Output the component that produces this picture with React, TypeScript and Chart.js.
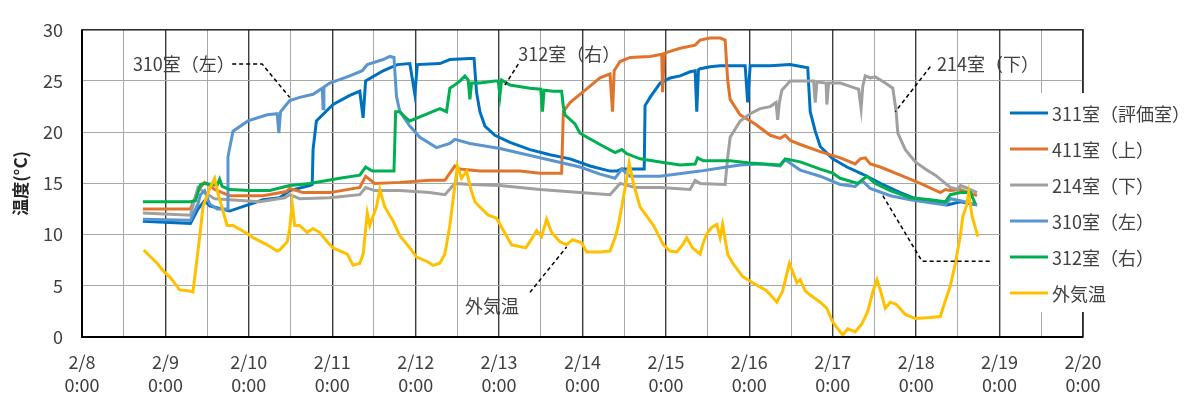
import { useEffect, useRef } from 'react';
import { Chart, registerables } from 'chart.js';

Chart.register(...registerables);

// Axis tick labels (x axis is measured in days from 2/8 0:00)
const dayLabels = ['2/8', '2/9', '2/10', '2/11', '2/12', '2/13', '2/14', '2/15', '2/16', '2/17', '2/18', '2/19', '2/20'];
const timeLabel = '0:00';
const yTitle = '温度(°C)';

const seriesNames = ['311室（評価室）', '411室（上）', '214室（下）', '310室（左）', '312室（右）', '外気温'];
const seriesColors = ['#0070C0', '#E2732B', '#A0A0A0', '#5B95D0', '#00B050', '#FFC000'];

// [day, °C]
const room311: [number, number][] = [
  [0.73, 11.3], [1.30, 11.1], [1.39, 12.5], [1.47, 13.3], [1.53, 12.8], [1.77, 12.3], [2.17, 13.4], [2.37, 13.6],
  [2.49, 14.3], [2.73, 14.8], [2.76, 14.9], [2.77, 18.3], [2.81, 21.1], [3.01, 22.7], [3.21, 23.6], [3.33, 24.0],
  [3.37, 21.4], [3.40, 25.0], [3.61, 26.0], [3.78, 26.6], [3.93, 26.7], [3.99, 23.7], [4.02, 26.6], [4.29, 26.7],
  [4.41, 27.1], [4.65, 27.2], [4.70, 27.2], [4.73, 23.9], [4.77, 22.0], [4.83, 20.6], [4.95, 19.7], [5.13, 19.0],
  [5.37, 18.3], [5.61, 17.8], [5.85, 17.4], [6.09, 16.7], [6.33, 16.2], [6.41, 16.2], [6.47, 16.4], [6.69, 16.4],
  [6.74, 16.4], [6.75, 22.6], [6.81, 23.4], [6.93, 24.8], [7.05, 25.3], [7.17, 25.5], [7.29, 25.9], [7.35, 26.0],
  [7.37, 22.0], [7.39, 26.1], [7.41, 26.2], [7.53, 26.4], [7.65, 26.5], [7.95, 26.5], [7.98, 22.9], [8.01, 26.5],
  [8.25, 26.5], [8.49, 26.6], [8.70, 26.3], [8.73, 22.0], [8.79, 20.1], [8.85, 18.6], [9.00, 17.4], [9.17, 16.6],
  [9.33, 16.0], [9.41, 15.7], [9.57, 15.0], [9.81, 14.1], [9.96, 13.6], [10.20, 13.2], [10.37, 12.9], [10.53, 13.2],
  [10.73, 12.9],
];

const room411: [number, number][] = [
  [0.73, 12.5], [1.30, 12.5], [1.39, 14.3], [1.47, 15.1], [1.53, 14.8], [1.59, 14.4], [1.77, 13.8], [2.17, 13.8],
  [2.45, 14.2], [2.49, 14.5], [2.65, 14.1], [2.97, 14.1], [3.33, 14.6], [3.40, 15.7], [3.51, 15.0], [3.81, 15.1],
  [4.17, 15.3], [4.35, 15.3], [4.41, 16.0], [4.47, 16.7], [4.53, 16.4], [4.77, 16.2], [5.25, 16.2], [5.49, 16.0],
  [5.75, 16.0], [5.77, 22.0], [5.85, 22.9], [5.97, 23.7], [6.09, 24.5], [6.21, 25.3], [6.33, 25.7], [6.36, 22.0],
  [6.38, 26.0], [6.45, 26.9], [6.57, 27.3], [6.81, 27.4], [6.95, 27.6], [6.96, 23.9], [6.98, 27.7], [7.05, 27.9],
  [7.17, 28.2], [7.35, 28.5], [7.41, 29.0], [7.53, 29.2], [7.65, 29.2], [7.71, 29.0], [7.74, 25.1], [7.77, 23.2],
  [7.89, 21.7], [8.07, 20.8], [8.25, 19.7], [8.37, 19.4], [8.43, 19.7], [8.49, 19.2], [8.61, 18.8], [8.85, 18.1],
  [9.09, 17.5], [9.27, 16.9], [9.33, 17.4], [9.39, 17.5], [9.45, 16.9], [9.57, 16.6], [9.81, 15.8], [10.05, 15.0],
  [10.29, 14.1], [10.35, 14.4], [10.41, 14.3], [10.53, 14.4], [10.73, 13.8],
];

const room214: [number, number][] = [
  [0.73, 12.1], [1.30, 11.9], [1.39, 14.6], [1.47, 14.1], [1.59, 13.5], [1.77, 13.4], [2.13, 13.2], [2.43, 13.6],
  [2.49, 13.9], [2.61, 13.5], [2.97, 13.6], [3.33, 13.9], [3.40, 14.6], [3.51, 14.3], [3.81, 14.3], [4.17, 14.1],
  [4.35, 13.9], [4.47, 15.0], [4.65, 14.9], [5.01, 14.8], [5.49, 14.4], [5.97, 14.1], [6.33, 13.9], [6.45, 15.0],
  [6.63, 14.6], [6.93, 14.6], [7.29, 14.4], [7.35, 15.3], [7.41, 15.0], [7.71, 14.9], [7.74, 17.5], [7.77, 19.5],
  [7.89, 21.1], [8.01, 21.8], [8.13, 22.3], [8.25, 22.5], [8.32, 22.9], [8.34, 21.2], [8.36, 22.9], [8.39, 24.1],
  [8.49, 25.0], [8.77, 25.0], [8.79, 22.9], [8.81, 24.9], [8.92, 24.8], [8.93, 22.7], [8.95, 24.8], [9.09, 24.8],
  [9.27, 24.3], [9.31, 24.2], [9.34, 22.3], [9.36, 24.5], [9.39, 25.5], [9.45, 25.3], [9.51, 25.4], [9.63, 24.8],
  [9.72, 24.3], [9.76, 22.0], [9.78, 19.9], [9.87, 18.3], [9.99, 17.1], [10.11, 16.4], [10.23, 15.8], [10.35, 15.0],
  [10.41, 14.6], [10.50, 14.4], [10.53, 14.8], [10.59, 14.6], [10.73, 14.1],
];

const room310: [number, number][] = [
  [0.73, 11.5], [1.30, 11.4], [1.39, 13.0], [1.42, 13.9], [1.47, 14.3], [1.53, 13.0], [1.62, 12.5], [1.74, 12.5],
  [1.75, 17.6], [1.81, 20.1], [1.99, 21.1], [2.22, 21.7], [2.34, 21.8], [2.36, 19.9], [2.38, 22.0], [2.49, 23.1],
  [2.61, 23.4], [2.77, 23.7], [2.88, 24.3], [2.89, 22.3], [2.90, 24.4], [2.97, 24.8], [3.21, 25.5], [3.36, 26.0],
  [3.42, 26.6], [3.61, 27.1], [3.69, 27.4], [3.74, 27.3], [3.77, 23.5], [3.81, 22.0], [3.93, 20.6], [4.05, 19.5],
  [4.25, 18.5], [4.41, 18.9], [4.47, 19.3], [4.65, 18.9], [5.01, 18.4], [5.49, 17.5], [5.97, 16.6], [6.21, 15.9],
  [6.39, 15.5], [6.47, 16.4], [6.57, 15.7], [6.93, 15.7], [7.41, 16.2], [7.65, 16.5], [7.89, 16.8], [8.13, 16.9],
  [8.37, 16.7], [8.43, 17.3], [8.61, 16.3], [8.85, 15.7], [9.09, 14.9], [9.27, 14.7], [9.35, 15.3], [9.45, 14.5],
  [9.69, 13.8], [9.93, 13.4], [10.17, 13.1], [10.35, 12.9], [10.41, 13.5], [10.53, 13.3], [10.73, 12.9],
];

const room312: [number, number][] = [
  [0.73, 13.2], [1.30, 13.2], [1.36, 13.3], [1.42, 14.9], [1.47, 15.0], [1.62, 14.8], [1.65, 15.4], [1.68, 14.7],
  [1.77, 14.4], [2.01, 14.3], [2.25, 14.3], [2.49, 14.8], [2.73, 15.0], [3.09, 15.5], [3.33, 15.8], [3.40, 16.6],
  [3.48, 16.2], [3.74, 16.2], [3.76, 22.0], [3.81, 22.0], [3.87, 21.5], [3.93, 21.1], [4.05, 21.5], [4.29, 22.3],
  [4.37, 22.0], [4.41, 24.3], [4.45, 24.5], [4.53, 25.0], [4.59, 25.5], [4.63, 25.1], [4.65, 23.2], [4.67, 24.8],
  [4.77, 24.8], [4.95, 25.0], [4.99, 25.0], [5.01, 23.6], [5.03, 25.1], [5.13, 24.6], [5.37, 24.3], [5.50, 24.2],
  [5.52, 22.0], [5.54, 24.1], [5.65, 24.0], [5.75, 24.0], [5.77, 22.5], [5.79, 21.7], [5.91, 20.8], [5.97, 19.9],
  [6.21, 18.8], [6.39, 18.0], [6.47, 18.3], [6.53, 17.9], [6.69, 17.4], [6.93, 17.1], [7.17, 16.8], [7.35, 16.9],
  [7.38, 17.5], [7.45, 17.2], [7.77, 17.2], [8.01, 17.0], [8.37, 16.8], [8.43, 17.4], [8.61, 17.1], [8.85, 16.4],
  [9.00, 16.0], [9.09, 15.5], [9.30, 15.0], [9.41, 15.7], [9.51, 15.0], [9.69, 14.3], [9.93, 13.6], [10.17, 13.4],
  [10.35, 13.2], [10.41, 13.9], [10.53, 14.1], [10.65, 14.1], [10.71, 13.0],
];

const outdoor: [number, number][] = [
  [0.74, 8.5], [0.90, 7.2], [0.98, 6.4], [1.06, 5.8], [1.17, 4.6], [1.29, 4.5], [1.33, 4.4], [1.41, 9.7],
  [1.45, 12.7], [1.53, 14.5], [1.59, 15.5], [1.63, 14.0], [1.74, 10.9], [1.81, 10.9], [1.98, 10.1], [2.05, 9.7],
  [2.22, 9.0], [2.34, 8.4], [2.37, 8.5], [2.46, 9.3], [2.49, 10.6], [2.52, 13.0], [2.55, 10.9], [2.61, 10.9],
  [2.70, 10.2], [2.77, 10.6], [2.85, 10.2], [2.94, 9.3], [3.01, 8.7], [3.18, 8.1], [3.25, 7.0], [3.33, 7.2],
  [3.37, 8.1], [3.42, 12.1], [3.45, 10.9], [3.53, 12.7], [3.57, 14.4], [3.63, 12.7], [3.73, 11.3], [3.81, 9.9],
  [3.93, 8.7], [4.01, 7.8], [4.13, 7.4], [4.21, 7.0], [4.29, 7.2], [4.35, 8.1], [4.41, 10.9], [4.45, 13.5],
  [4.50, 16.7], [4.55, 15.5], [4.61, 16.2], [4.66, 14.5], [4.71, 13.2], [4.77, 12.7], [4.87, 11.9], [4.97, 11.6],
  [5.15, 9.0], [5.32, 8.7], [5.40, 9.7], [5.45, 10.4], [5.51, 9.8], [5.57, 11.5], [5.63, 10.2], [5.73, 9.3],
  [5.81, 9.0], [5.88, 9.5], [5.99, 9.2], [6.05, 8.3], [6.21, 8.3], [6.33, 8.4], [6.39, 9.7], [6.43, 10.9],
  [6.47, 12.7], [6.52, 15.0], [6.56, 17.0], [6.61, 15.0], [6.69, 12.7], [6.85, 10.9], [6.97, 9.0], [7.05, 8.4],
  [7.13, 8.3], [7.20, 9.0], [7.25, 9.7], [7.32, 8.7], [7.41, 8.1], [7.44, 9.0], [7.49, 10.1], [7.55, 10.7],
  [7.61, 11.0], [7.65, 9.7], [7.68, 11.0], [7.74, 8.1], [7.80, 7.2], [7.92, 5.9], [8.04, 5.3], [8.21, 4.5],
  [8.33, 3.4], [8.40, 4.5], [8.48, 7.2], [8.57, 5.3], [8.61, 5.6], [8.67, 4.5], [8.73, 4.1], [8.85, 3.4],
  [8.93, 2.8], [8.99, 1.6], [9.06, 0.8], [9.12, 0.2], [9.18, 0.8], [9.27, 0.5], [9.35, 1.3], [9.42, 2.5],
  [9.48, 4.4], [9.53, 5.6], [9.57, 4.6], [9.63, 2.8], [9.69, 3.4], [9.76, 3.2], [9.87, 2.2], [9.99, 1.8],
  [10.17, 1.9], [10.29, 2.0], [10.32, 2.8], [10.41, 5.0], [10.47, 7.2], [10.53, 9.9], [10.56, 11.8], [10.60, 12.7],
  [10.63, 14.1], [10.67, 11.8], [10.74, 9.8],
];

const seriesData = [room311, room411, room214, room310, room312, outdoor];

// Callout labels with dashed leader lines, placed in data coordinates
const callouts: { text: string; at: [number, number] | null; path: [number, number][] }[] = [
  { text: '310室（左）', at: [0.61, 26.65], path: [[1.80, 26.65], [2.16, 26.65], [2.49, 23.4]] },
  { text: '312室（右）', at: [5.23, 27.6], path: [[5.23, 26.65], [5.07, 24.6]] },
  { text: '214室（下）', at: [10.25, 26.65], path: [[10.17, 26.4], [9.75, 22.0]] },
  { text: '外気温', at: [4.59, 3.0], path: [[5.37, 4.36], [5.81, 8.8]] },
  { text: '', at: null, path: [[9.60, 13.8], [10.07, 7.4], [10.91, 7.4]] },
];

const FONT = "'Noto Sans CJK JP', 'Noto Sans', sans-serif";
const TEXT_COLOR = '#404040';

const overlayPlugin = {
  id: 'overlay',
  afterDatasetsDraw(chart: any) {
    const { ctx, chartArea: a, scales } = chart;
    const xs = scales.x;
    const ys = scales.y;
    ctx.save();

    // plot frame
    ctx.strokeStyle = '#262626';
    ctx.lineWidth = 1.5;
    ctx.strokeRect(a.left, a.top, a.right - a.left, a.bottom - a.top);
    ctx.strokeStyle = '#000';
    ctx.lineWidth = 2;
    ctx.beginPath();
    ctx.moveTo(a.left, a.top);
    ctx.lineTo(a.left, a.bottom);
    ctx.lineTo(a.right, a.bottom);
    ctx.stroke();

    // callouts
    ctx.font = `18px ${FONT}`;
    ctx.fillStyle = TEXT_COLOR;
    ctx.textAlign = 'left';
    ctx.textBaseline = 'middle';
    for (const c of callouts) {
      ctx.setLineDash([4, 3]);
      ctx.strokeStyle = '#000';
      ctx.lineWidth = 1.5;
      ctx.beginPath();
      c.path.forEach(([dx, dy], i) => {
        const px = xs.getPixelForValue(dx);
        const py = ys.getPixelForValue(dy);
        if (i === 0) ctx.moveTo(px, py);
        else ctx.lineTo(px, py);
      });
      ctx.stroke();
      ctx.setLineDash([]);
      if (c.at) {
        ctx.fillText(c.text, xs.getPixelForValue(c.at[0]), ys.getPixelForValue(c.at[1]));
      }
    }

    // legend box overlapping the right edge of the plot
    const lx = 1001;
    const ly = 93;
    ctx.fillStyle = '#fff';
    ctx.fillRect(lx, ly, chart.width - lx, 312 - ly);
    chart.data.datasets.forEach((ds: any, i: number) => {
      const y = 113 + i * 36;
      ctx.strokeStyle = ds.borderColor;
      ctx.lineWidth = 2.8;
      ctx.beginPath();
      ctx.moveTo(lx + 9, y);
      ctx.lineTo(lx + 47, y);
      ctx.stroke();
      ctx.fillStyle = TEXT_COLOR;
      ctx.font = `18px ${FONT}`;
      ctx.fillText(ds.label, lx + 51, y + 1);
    });
    ctx.restore();
  },
};

export default function App() {
  const canvasRef = useRef<HTMLCanvasElement | null>(null);

  useEffect(() => {
    if (!canvasRef.current) return;
    const chart = new Chart(canvasRef.current, {
      type: 'line',
      data: {
        datasets: seriesNames.map((name, i) => ({
          label: name,
          data: seriesData[i].map(([x, y]) => ({ x, y })),
          borderColor: seriesColors[i],
          backgroundColor: seriesColors[i],
          borderWidth: 3,
          pointRadius: 0,
          tension: 0,
          fill: false,
          order: seriesNames.length - 1 - i,
        })),
      },
      options: {
        animation: false,
        responsive: true,
        maintainAspectRatio: false,
        layout: { padding: { top: 14, right: 111, left: 0, bottom: 0 } },
        plugins: { legend: { display: false }, tooltip: { enabled: false } },
        scales: {
          x: {
            type: 'linear',
            min: 0,
            max: 12,
            afterFit: (scale: any) => {
              scale.height = 61;
            },
            border: { display: false },
            grid: {
              drawTicks: false,
              color: (c: any) => (Number.isInteger(c.tick?.value) ? '#3c3c3c' : '#a8a8a8'),
              lineWidth: (c: any) => (Number.isInteger(c.tick?.value) ? 1.4 : 1),
            },
            ticks: {
              stepSize: 0.5,
              autoSkip: false,
              maxRotation: 0,
              padding: 14,
              color: TEXT_COLOR,
              font: { family: FONT, size: 18, lineHeight: 1.28 },
              callback: (v: any) => (Number.isInteger(v) ? [dayLabels[v], timeLabel] : ''),
            },
          },
          y: {
            min: 0,
            max: 30,
            afterFit: (scale: any) => {
              scale.width = 82;
            },
            border: { display: false },
            grid: { drawTicks: false, color: '#a8a8a8', lineWidth: 1 },
            ticks: {
              stepSize: 5,
              padding: 19,
              color: TEXT_COLOR,
              font: { family: FONT, size: 18 },
            },
            title: {
              display: true,
              text: yTitle,
              color: '#222',
              padding: { top: 10, bottom: 0 },
              font: { family: FONT, size: 17, weight: 'bold' },
            },
          },
        },
      },
      plugins: [overlayPlugin],
    });
    return () => chart.destroy();
  }, []);

  return (
    <div style={{ position: 'absolute', left: 0, top: 0, width: 1194, height: 398 }}>
      <canvas ref={canvasRef} />
    </div>
  );
}
